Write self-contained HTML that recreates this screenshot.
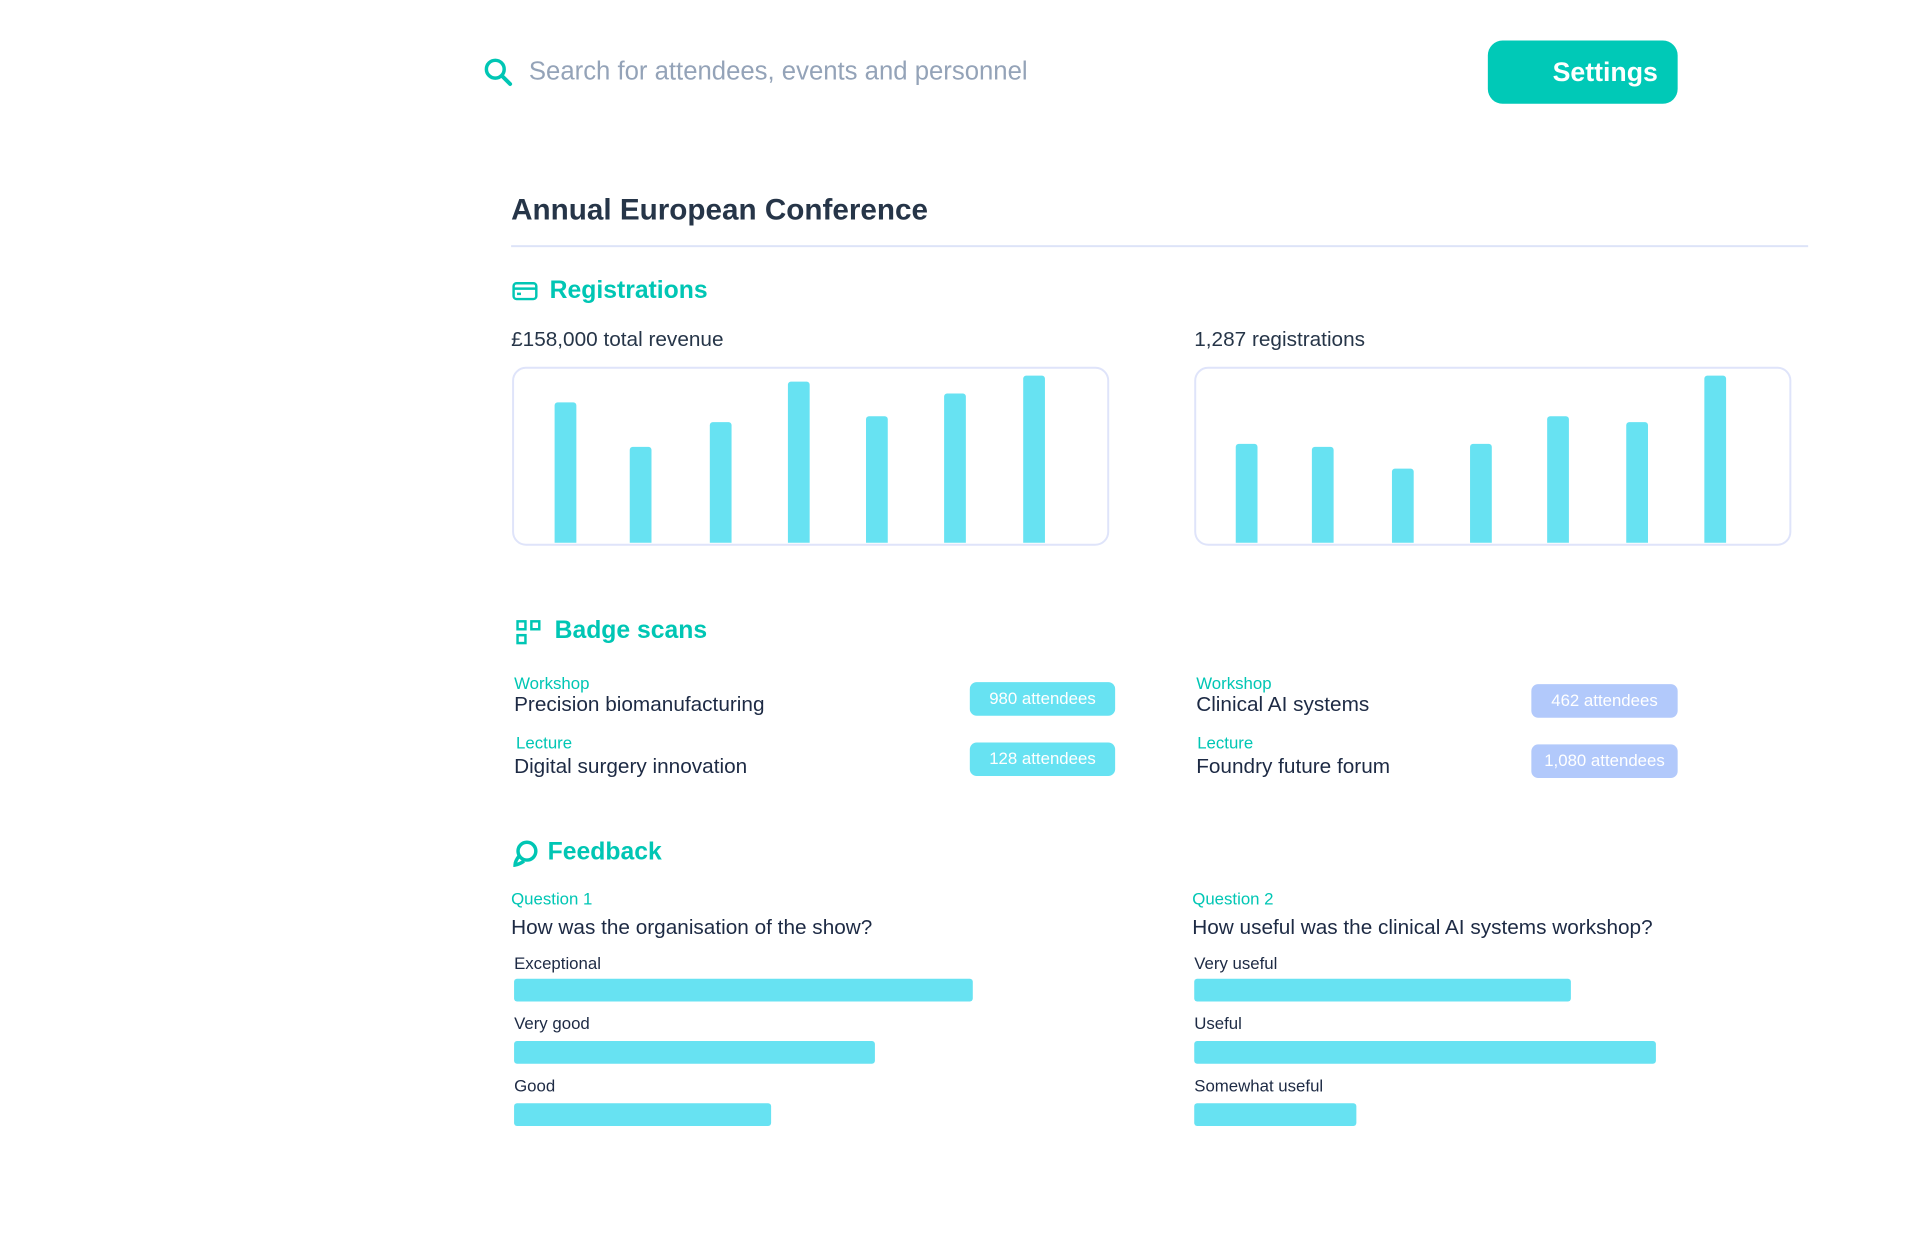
<!DOCTYPE html>
<html><head><meta charset="utf-8"><style>
*{margin:0;padding:0;box-sizing:border-box}
body{width:1918px;height:1240px;background:#fff;position:relative;font-family:"Liberation Sans",sans-serif;overflow:hidden}
#w{position:absolute;left:0;top:0;width:1940px;height:1255px;transform:scale(0.9886);transform-origin:0 0}
.a{position:absolute;white-space:nowrap}
.c{transform:translateY(-50%)}
.bar{position:absolute;background:#67e2f2;border-radius:3px 3px 0 0;width:22px}
.box{position:absolute;border:2px solid #dfe4fa;border-radius:14px;top:371px;height:181px;width:604px}
.teal{color:#00c6b4}
.dark{color:#1d2a44}
.pill{position:absolute;border-radius:7px;color:#fff;font-size:17px;display:flex;align-items:center;justify-content:center}
.hb{position:absolute;background:#67e2f2;border-radius:3px;height:23px;left:520px}
</style></head><body><div id="w">
<svg class="a" style="left:489px;top:58px" width="30" height="30" viewBox="0 0 30 30"><circle cx="12" cy="12" r="9" fill="none" stroke="#00c6b4" stroke-width="3.5"/><line x1="19" y1="19" x2="27" y2="27" stroke="#00c6b4" stroke-width="4" stroke-linecap="round"/></svg>
<div class="a c" style="left:535px;top:72px;font-size:26px;color:#94a3b8">Search for attendees, events and personnel</div>
<div class="a" style="left:1505px;top:41px;width:192px;height:64px;background:#00c9b7;border-radius:15px;color:#fff;font-size:27px;font-weight:bold;display:flex;align-items:center;justify-content:flex-end;padding-right:20px">Settings</div>
<div class="a c" style="left:517px;top:213px;font-size:30px;font-weight:bold;color:#263548">Annual European Conference</div>
<div class="a" style="left:517px;top:248px;width:1312px;height:2px;background:#dde3f8"></div>
<svg class="a" style="left:518px;top:285px" width="26" height="19" viewBox="0 0 26 19"><rect x="1.5" y="1.5" width="23" height="16" rx="3" fill="none" stroke="#00c6b4" stroke-width="2.5"/><line x1="1.5" y1="7" x2="24.5" y2="7" stroke="#00c6b4" stroke-width="2.5"/><rect x="5" y="11" width="4" height="2.5" fill="#00c6b4"/></svg>
<div class="a c teal" style="left:556px;top:294px;font-size:25px;font-weight:bold">Registrations</div>
<div class="a c" style="left:517px;top:344px;font-size:21px;color:#263548">£158,000 total revenue</div>
<div class="a c" style="left:1208px;top:344px;font-size:21px;color:#263548">1,287 registrations</div>
<div class="box" style="left:518px"></div>
<div class="box" style="left:1208px"></div>
<div class="bar" style="left:561px;top:407px;height:142px"></div>
<div class="bar" style="left:637px;top:452px;height:97px"></div>
<div class="bar" style="left:718px;top:427px;height:122px"></div>
<div class="bar" style="left:797px;top:386px;height:163px"></div>
<div class="bar" style="left:876px;top:421px;height:128px"></div>
<div class="bar" style="left:955px;top:398px;height:151px"></div>
<div class="bar" style="left:1035px;top:380px;height:169px"></div>
<div class="bar" style="left:1250px;top:449px;height:100px"></div>
<div class="bar" style="left:1327px;top:452px;height:97px"></div>
<div class="bar" style="left:1408px;top:474px;height:75px"></div>
<div class="bar" style="left:1487px;top:449px;height:100px"></div>
<div class="bar" style="left:1565px;top:421px;height:128px"></div>
<div class="bar" style="left:1645px;top:427px;height:122px"></div>
<div class="bar" style="left:1724px;top:380px;height:169px"></div>
<svg class="a" style="left:522px;top:627px" width="27" height="26" viewBox="0 0 27 26"><rect x="1.5" y="1.5" width="8" height="8" fill="none" stroke="#00c6b4" stroke-width="2.5"/><rect x="15.5" y="1.5" width="8" height="8" fill="none" stroke="#00c6b4" stroke-width="2.5"/><rect x="1.5" y="15.5" width="8" height="8" fill="none" stroke="#00c6b4" stroke-width="2.5"/></svg>
<div class="a c teal" style="left:561px;top:638px;font-size:25px;font-weight:bold">Badge scans</div>
<div class="a c teal" style="left:520px;top:692px;font-size:17px">Workshop</div>
<div class="a c dark" style="left:520px;top:713px;font-size:21px">Precision biomanufacturing</div>
<div class="a c teal" style="left:522px;top:752px;font-size:17px">Lecture</div>
<div class="a c dark" style="left:520px;top:776px;font-size:21px">Digital surgery innovation</div>
<div class="pill" style="left:981px;top:690px;width:147px;height:34px;background:#67e2f2">980 attendees</div>
<div class="pill" style="left:981px;top:751px;width:147px;height:34px;background:#67e2f2">128 attendees</div>
<div class="a c teal" style="left:1210px;top:692px;font-size:17px">Workshop</div>
<div class="a c dark" style="left:1210px;top:713px;font-size:21px">Clinical AI systems</div>
<div class="a c teal" style="left:1211px;top:752px;font-size:17px">Lecture</div>
<div class="a c dark" style="left:1210px;top:776px;font-size:21px">Foundry future forum</div>
<div class="pill" style="left:1549px;top:692px;width:148px;height:34px;background:#b2c9fb">462 attendees</div>
<div class="pill" style="left:1549px;top:753px;width:148px;height:34px;background:#b2c9fb">1,080 attendees</div>
<svg class="a" style="left:518px;top:849px" width="28" height="28" viewBox="0 0 28 28"><circle cx="15" cy="12" r="9" fill="none" stroke="#00c6b4" stroke-width="3.5"/><path d="M7 17 Q3 22 3 26 Q8 25 12 22" fill="none" stroke="#00c6b4" stroke-width="3.5"/></svg>
<div class="a c teal" style="left:554px;top:862px;font-size:25px;font-weight:bold">Feedback</div>
<div class="a c teal" style="left:517px;top:910px;font-size:17px">Question 1</div>
<div class="a c dark" style="left:517px;top:939px;font-size:21px">How was the organisation of the show?</div>
<div class="a c dark" style="left:520px;top:975px;font-size:17px">Exceptional</div>
<div class="hb" style="top:990px;width:464px"></div>
<div class="a c dark" style="left:520px;top:1036px;font-size:17px">Very good</div>
<div class="hb" style="top:1053px;width:365px"></div>
<div class="a c dark" style="left:520px;top:1099px;font-size:17px">Good</div>
<div class="hb" style="top:1116px;width:260px"></div>
<div class="a c teal" style="left:1206px;top:910px;font-size:17px">Question 2</div>
<div class="a c dark" style="left:1206px;top:939px;font-size:21px">How useful was the clinical AI systems workshop?</div>
<div class="a c dark" style="left:1208px;top:975px;font-size:17px">Very useful</div>
<div class="hb" style="left:1208px;top:990px;width:381px"></div>
<div class="a c dark" style="left:1208px;top:1036px;font-size:17px">Useful</div>
<div class="hb" style="left:1208px;top:1053px;width:467px"></div>
<div class="a c dark" style="left:1208px;top:1099px;font-size:17px">Somewhat useful</div>
<div class="hb" style="left:1208px;top:1116px;width:164px"></div>
</div></body></html>
